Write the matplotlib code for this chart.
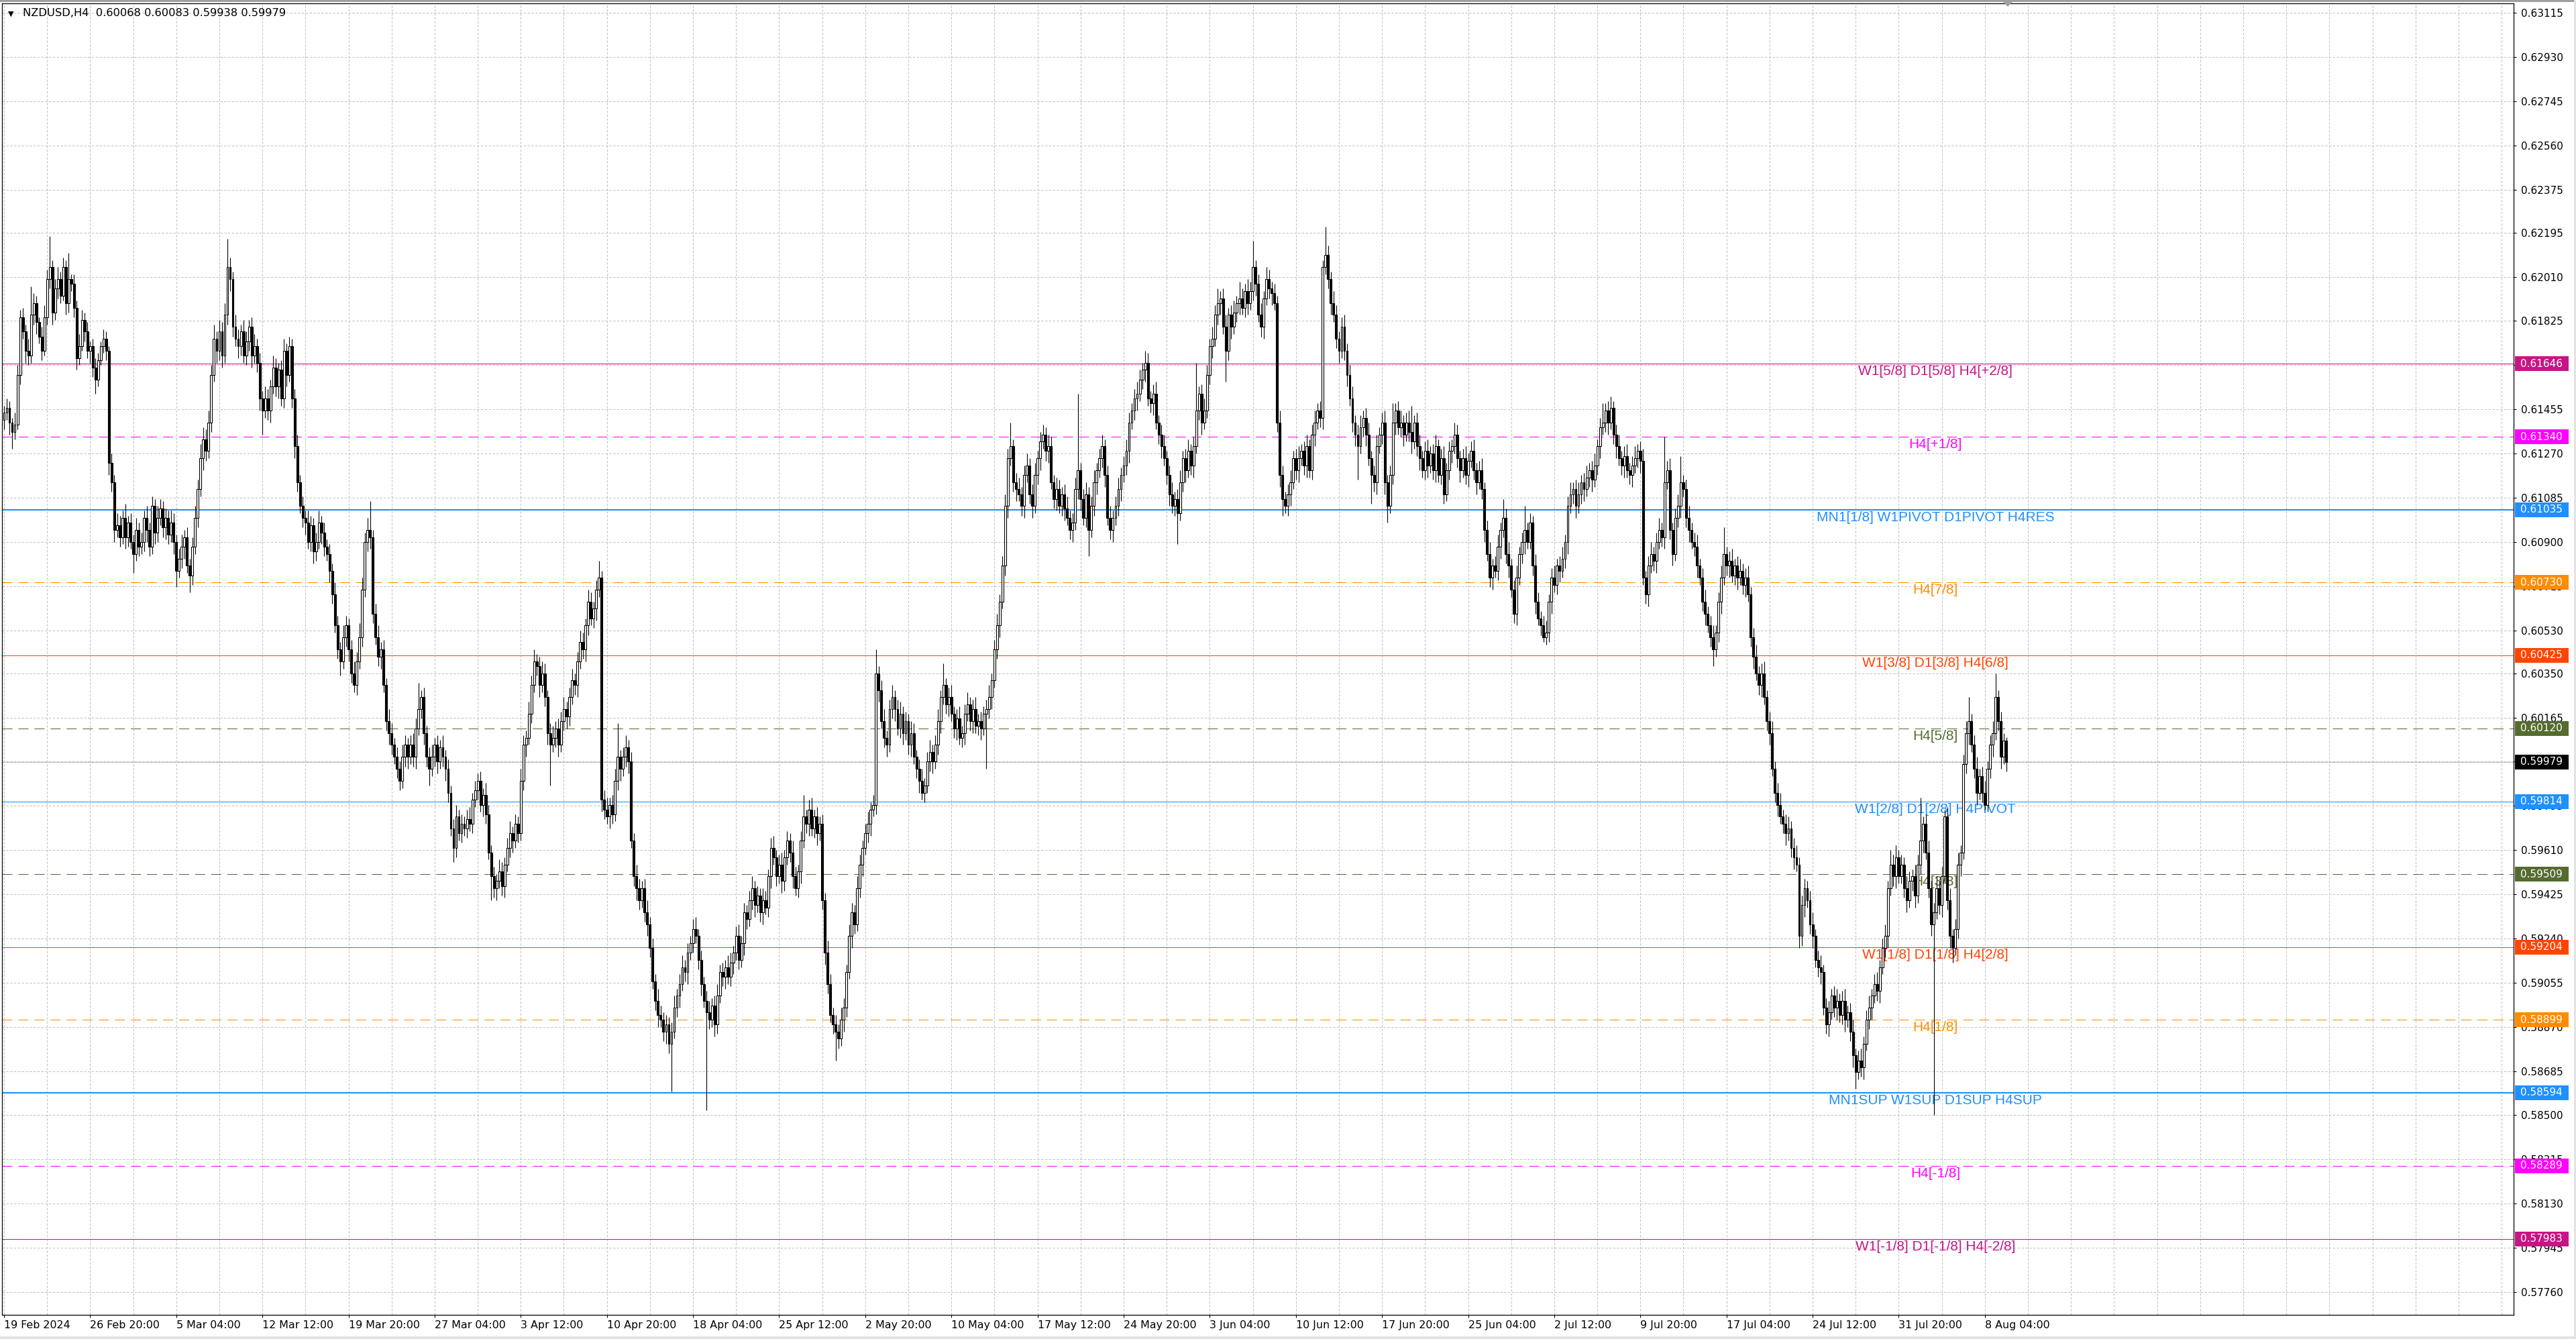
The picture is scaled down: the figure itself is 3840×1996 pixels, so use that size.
import matplotlib

matplotlib.use("Agg")
import matplotlib.pyplot as plt
import numpy as np
from matplotlib.patches import Rectangle, Polygon
from matplotlib.transforms import blended_transform_factory

# ---- data (prices in pips, 0.0001) -------------------------------------
title_text = "NZDUSD,H4  0.60068 0.60083 0.59938 0.59979"
first_open = 6141

close_feb = [
    6144, 6146, 6140, 6136, 6139, 6160, 6184, 6178, 6170, 6168,
    6185, 6190, 6182, 6176, 6170, 6184, 6200, 6205, 6186, 6196,
    6200, 6193, 6205, 6190, 6200, 6198, 6188, 6167, 6172, 6183,
    6178, 6170, 6172, 6163, 6158, 6166, 6172, 6175, 6170, 6123,
    6115, 6095, 6097, 6092, 6100, 6092, 6098, 6090, 6085, 6095,
    6088,
]
close_mar = [
    6090, 6100, 6095, 6088, 6105, 6094, 6100, 6104, 6096, 6100,
    6093, 6098, 6090, 6078, 6083, 6088, 6092, 6080, 6076, 6088,
    6100, 6112, 6125, 6133, 6128, 6140, 6160, 6175, 6170, 6178,
    6168, 6185, 6205, 6200, 6180, 6175, 6172, 6178, 6168, 6174,
    6180, 6168, 6172, 6165, 6150, 6145, 6150, 6145, 6155, 6163,
    6155, 6162, 6150, 6170, 6160, 6172, 6150, 6130, 6115, 6105,
    6100, 6098, 6090, 6097, 6086, 6090, 6098, 6094, 6088, 6085,
    6078, 6068, 6055, 6045, 6040, 6050, 6055, 6045, 6035, 6030,
    6040, 6050, 6070, 6090, 6095, 6092, 6060, 6050, 6042, 6045,
    6030, 6015, 6010, 6005, 6000, 5995, 5990, 6000, 6005, 6000,
    6005, 6000, 6012, 6020, 6025, 6010, 6000, 5995, 6000, 6005,
    5998, 6004, 6000, 5995, 5985, 5970, 5962, 5975, 5968, 5972,
    5970, 5974, 5972, 5982, 5986, 5990,
]
close_apr = [
    5980, 5984, 5976, 5960, 5950, 5945, 5948, 5952, 5946, 5955,
    5962, 5968, 5965, 5972, 5968, 5990, 6005, 6008, 6018, 6030,
    6040, 6038, 6030, 6035, 6025, 6010, 6005, 6008, 6012, 6005,
    6015, 6020, 6017, 6025, 6032, 6030, 6040, 6048, 6045, 6055,
    6065, 6058, 6062, 6070, 6075, 5982, 5978, 5975, 5980, 5976,
    5990, 6000, 5995, 6000, 6004, 5998, 5965, 5950, 5945, 5940,
    5945, 5935, 5930, 5920, 5906, 5898, 5892, 5890, 5885, 5888,
    5880, 5885, 5895, 5900, 5905, 5912, 5910, 5918, 5922, 5928,
    5925, 5915, 5905, 5898, 5893, 5890, 5896, 5888, 5900, 5910,
    5908, 5912, 5908, 5914, 5918, 5925, 5915, 5922, 5935, 5932,
    5940, 5945, 5938, 5942, 5935, 5940, 5937, 5950, 5962, 5958,
    5950, 5955, 5948, 5958, 5965, 5960, 5950, 5945, 5952, 5965,
    5975, 5972, 5978, 5970, 5975, 5968, 5972, 5940, 5918, 5905,
    5892, 5888,
]
close_may = [
    5885, 5882, 5890, 5895, 5910, 5925, 5935, 5930, 5945, 5955,
    5962, 5968, 5972, 5978, 5980, 6035, 6028, 6015, 6008, 6005,
    6020, 6025, 6020, 6012, 6018, 6010, 6015, 6005, 6010, 6000,
    5995, 5990, 5985, 5988, 5998, 6002, 5998, 6005, 6015, 6025,
    6030, 6022, 6025, 6018, 6012, 6016, 6008, 6010, 6018, 6022,
    6015, 6020, 6013, 6015, 6012, 6018, 6020, 6025, 6032, 6045,
    6055, 6065, 6080, 6105, 6125, 6130, 6115, 6112, 6110, 6105,
    6118, 6122, 6110, 6105, 6118, 6125, 6132, 6135, 6128, 6130,
    6115, 6108, 6112, 6105, 6110, 6104, 6100, 6095, 6098, 6112,
    6120, 6108, 6100, 6110, 6095, 6105, 6115, 6120, 6125, 6130,
    6118, 6100, 6095, 6100, 6105, 6112, 6118, 6122, 6128, 6140,
    6145, 6150, 6152, 6158, 6162, 6165, 6150, 6148, 6152, 6140,
    6135, 6130, 6125, 6118, 6110, 6105, 6108, 6102, 6115, 6125,
    6120, 6128, 6122, 6130, 6145, 6152, 6140, 6145,
]
close_jun = [
    6160, 6172, 6175, 6185, 6190, 6192, 6180, 6170, 6185, 6180,
    6186, 6190, 6192, 6188, 6195, 6190, 6195, 6205, 6198, 6185,
    6180, 6192, 6200, 6196, 6194, 6190, 6140, 6118, 6108, 6105,
    6110, 6115, 6125, 6120, 6125, 6128, 6122, 6130, 6120, 6135,
    6140, 6145, 6142, 6205, 6210, 6200, 6190, 6185, 6175, 6170,
    6180, 6170, 6160, 6150, 6140, 6135, 6130, 6138, 6142, 6135,
    6125, 6118, 6115, 6130, 6135, 6140, 6115, 6105, 6118, 6140,
    6145, 6138, 6140, 6135, 6140, 6136, 6132, 6140, 6130, 6125,
    6120, 6128, 6122, 6127, 6120, 6130, 6118, 6125, 6110, 6120,
    6128, 6130, 6135, 6125, 6120, 6125, 6118, 6124, 6128, 6120,
    6115, 6120, 6112, 6095, 6085, 6075, 6080, 6078, 6088, 6095,
    6100, 6085, 6080, 6070, 6060, 6075, 6085, 6090, 6095, 6090,
]
close_jul = [
    6098, 6080, 6065, 6058, 6055, 6050, 6052, 6065, 6075, 6072,
    6080, 6078, 6083, 6090, 6105, 6110, 6112, 6105, 6110, 6115,
    6112, 6117, 6120, 6116, 6122, 6130, 6138, 6140, 6145, 6140,
    6146, 6135, 6130, 6125, 6122, 6126, 6120, 6118, 6122, 6125,
    6128, 6124, 6075, 6068, 6080, 6085, 6082, 6090, 6095, 6092,
    6115, 6120, 6095, 6085, 6100, 6105, 6115, 6112, 6100, 6095,
    6090, 6088, 6080, 6075, 6065, 6060, 6055, 6050, 6045, 6052,
    6065, 6075, 6085, 6080, 6082, 6076, 6080, 6075, 6078, 6072,
    6075, 6068, 6050, 6042, 6035, 6030, 6035, 6025, 6015, 6010,
    5995, 5985, 5980, 5975, 5972, 5968, 5970, 5962, 5958, 5955,
    5925, 5938, 5945, 5940, 5930, 5925, 5915, 5912, 5910, 5895,
    5888, 5893, 5900, 5895, 5898, 5892, 5898, 5890, 5893, 5885,
    5875, 5868, 5873, 5870, 5880, 5890, 5895, 5900, 5905, 5902,
    5912, 5920, 5925, 5945, 5955, 5950, 5958, 5950,
]
close_aug = [
    5955, 5945, 5940, 5948, 5950, 5942, 5955, 5965, 5972, 5960,
    5945, 5930, 5935, 5945, 5938, 5950, 5975, 5940, 5925, 5920,
    5928, 5955, 5960, 5997, 6010, 6015, 6005, 5995, 5985, 5992,
    5985, 5980, 5995, 6005, 6010, 6025, 6015, 6000, 6006.8, 5997.9,
]

# upper / lower shadow length above / below the body, in pips
up_feb = [
    3, 4, 3, 2, 5, 4, 3, 4, 3, 5,
    12, 4, 3, 2, 4, 5, 4, 13, 3, 4,
    5, 3, 4, 3, 11, 2, 4, 3, 5, 4,
    3, 4, 2, 3, 4, 3, 2, 4, 3, 2,
    4, 3, 5, 4, 3, 6, 3, 4, 3, 5,
    3,
]
dn_feb = [
    4, 3, 5, 7, 3, 2, 4, 3, 5, 4,
    3, 4, 5, 3, 4, 2, 3, 4, 5, 3,
    4, 3, 2, 5, 4, 3, 4, 5, 3, 2,
    4, 3, 5, 4, 6, 3, 2, 3, 4, 5,
    4, 5, 3, 4, 3, 5, 4, 3, 8, 3,
    4,
]
up_mar = [
    4, 3, 5, 3, 4, 3, 5, 4, 3, 4,
    3, 5, 4, 3, 4, 5, 3, 4, 3, 4,
    5, 4, 6, 5, 4, 5, 4, 6, 3, 5,
    4, 5, 12, 4, 3, 5, 4, 3, 5, 4,
    3, 4, 5, 3, 4, 3, 5, 4, 3, 5,
    4, 3, 4, 5, 3, 4, 3, 4, 5, 3,
    4, 3, 5, 4, 3, 4, 5, 3, 4, 3,
    4, 3, 5, 4, 3, 5, 4, 3, 4, 5,
    4, 6, 5, 4, 5, 12, 3, 4, 5, 3,
    4, 3, 5, 4, 3, 4, 3, 5, 4, 3,
    4, 5, 4, 11, 3, 4, 3, 4, 5, 3,
    4, 3, 5, 3, 4, 3, 4, 5, 3, 4,
    3, 4, 5, 3, 4, 3,
]
dn_mar = [
    3, 4, 5, 4, 3, 5, 4, 3, 4, 5,
    4, 3, 5, 7, 3, 4, 5, 3, 7, 4,
    3, 4, 3, 5, 4, 3, 4, 3, 5, 4,
    5, 3, 4, 5, 4, 3, 5, 4, 3, 4,
    4, 5, 3, 4, 5, 10, 3, 4, 5, 3,
    4, 5, 3, 4, 5, 3, 4, 5, 4, 3,
    4, 5, 3, 4, 5, 4, 3, 5, 4, 3,
    5, 4, 3, 4, 6, 3, 4, 5, 4, 3,
    4, 3, 4, 3, 4, 5, 4, 3, 4, 5,
    3, 4, 5, 4, 3, 4, 4, 3, 4, 5,
    3, 4, 5, 3, 4, 5, 4, 7, 3, 4,
    5, 3, 4, 5, 4, 3, 6, 4, 3, 4,
    3, 4, 3, 4, 3, 4,
]
up_apr = [
    4, 3, 5, 4, 3, 4, 3, 5, 4, 3,
    4, 5, 3, 4, 3, 5, 4, 3, 5, 4,
    5, 3, 4, 5, 4, 3, 4, 5, 3, 4,
    4, 5, 3, 4, 5, 3, 4, 5, 4, 3,
    5, 4, 3, 4, 7, 3, 4, 5, 3, 4,
    5, 14, 3, 4, 5, 3, 4, 3, 5, 4,
    3, 4, 5, 3, 4, 3, 5, 4, 3, 4,
    3, 4, 5, 3, 4, 5, 3, 4, 3, 4,
    5, 3, 4, 3, 4, 5, 3, 4, 5, 3,
    4, 3, 5, 4, 3, 4, 5, 3, 4, 3,
    4, 5, 3, 4, 3, 5, 4, 3, 4, 5,
    3, 4, 5, 3, 4, 3, 5, 4, 3, 4,
    9, 3, 4, 5, 3, 4, 3, 4, 3, 5,
    4, 3,
]
dn_apr = [
    3, 5, 4, 3, 10, 4, 5, 3, 4, 5,
    3, 4, 5, 3, 4, 3, 4, 5, 3, 4,
    3, 4, 5, 3, 4, 5, 17, 3, 4, 5,
    3, 4, 5, 4, 3, 4, 5, 3, 4, 5,
    4, 3, 4, 5, 3, 5, 4, 3, 5, 4,
    3, 4, 5, 3, 4, 5, 3, 4, 5, 4,
    3, 4, 5, 4, 3, 4, 5, 3, 4, 5,
    4, 20, 3, 4, 5, 3, 4, 5, 3, 4,
    3, 4, 5, 3, 41, 4, 3, 5, 4, 3,
    4, 5, 3, 4, 5, 3, 4, 3, 5, 4,
    3, 4, 5, 3, 4, 5, 3, 4, 5, 3,
    4, 3, 5, 4, 3, 4, 5, 3, 4, 5,
    3, 4, 5, 3, 4, 5, 3, 4, 5, 4,
    3, 4,
]
up_may = [
    4, 3, 5, 4, 3, 5, 4, 3, 5, 4,
    3, 4, 5, 3, 4, 10, 3, 4, 5, 3,
    4, 5, 3, 4, 5, 3, 4, 3, 5, 4,
    3, 4, 5, 3, 4, 5, 3, 4, 5, 3,
    9, 3, 4, 5, 3, 4, 5, 3, 4, 5,
    3, 4, 5, 3, 4, 3, 4, 5, 3, 4,
    5, 3, 4, 5, 4, 10, 3, 4, 5, 3,
    4, 5, 3, 4, 5, 3, 4, 4, 3, 5,
    4, 3, 5, 4, 3, 4, 5, 3, 4, 5,
    32, 3, 4, 5, 3, 4, 5, 3, 4, 5,
    3, 4, 5, 3, 4, 5, 3, 4, 5, 4,
    3, 4, 5, 4, 3, 5, 4, 3, 4, 5,
    3, 4, 5, 3, 4, 5, 3, 4, 5, 3,
    4, 5, 3, 4, 20, 3, 4, 5,
]
dn_may = [
    12, 4, 3, 5, 4, 3, 5, 4, 3, 4,
    5, 3, 4, 5, 3, 4, 5, 3, 4, 5,
    3, 4, 5, 3, 4, 5, 3, 4, 5, 3,
    4, 5, 3, 4, 3, 4, 5, 3, 4, 5,
    3, 4, 5, 3, 4, 5, 3, 4, 5, 3,
    4, 5, 3, 4, 5, 3, 23, 4, 5, 3,
    4, 5, 3, 4, 5, 3, 4, 5, 3, 4,
    5, 3, 4, 5, 3, 4, 5, 3, 4, 5,
    3, 4, 5, 3, 4, 5, 3, 4, 5, 3,
    4, 5, 3, 4, 11, 3, 4, 5, 3, 4,
    5, 3, 4, 5, 3, 4, 5, 3, 4, 5,
    3, 4, 5, 3, 4, 5, 3, 4, 5, 3,
    4, 5, 3, 4, 5, 3, 4, 13, 3, 4,
    5, 3, 4, 5, 3, 4, 5, 3,
]
up_jun = [
    4, 3, 5, 4, 6, 3, 4, 5, 3, 4,
    5, 3, 7, 4, 3, 5, 4, 11, 3, 4,
    5, 3, 5, 4, 3, 4, 3, 5, 4, 3,
    4, 5, 3, 4, 5, 3, 4, 5, 3, 4,
    5, 3, 4, 3, 12, 4, 3, 5, 4, 3,
    4, 5, 3, 4, 5, 3, 4, 5, 3, 4,
    5, 3, 4, 5, 3, 4, 5, 3, 4, 8,
    3, 4, 5, 3, 4, 5, 11, 3, 4, 5,
    3, 4, 5, 3, 4, 5, 3, 4, 5, 3,
    4, 3, 5, 4, 3, 4, 5, 3, 4, 5,
    3, 4, 5, 3, 4, 5, 3, 4, 5, 3,
    8, 4, 5, 3, 4, 5, 3, 4, 10, 3,
]
dn_jun = [
    3, 4, 5, 3, 4, 5, 3, 13, 4, 5,
    3, 4, 5, 3, 4, 5, 3, 4, 5, 3,
    4, 5, 3, 4, 5, 3, 4, 5, 7, 3,
    4, 5, 3, 4, 5, 3, 4, 5, 3, 4,
    5, 3, 4, 5, 3, 4, 5, 3, 4, 5,
    3, 4, 5, 3, 4, 5, 14, 3, 4, 5,
    3, 12, 4, 5, 3, 4, 5, 7, 3, 4,
    5, 3, 4, 5, 3, 4, 5, 3, 4, 5,
    3, 4, 5, 3, 4, 5, 3, 4, 4, 3,
    4, 5, 3, 4, 5, 3, 4, 5, 3, 4,
    5, 3, 4, 5, 3, 4, 5, 3, 4, 5,
    3, 4, 5, 3, 4, 5, 3, 4, 5, 3,
]
up_jul = [
    4, 3, 5, 4, 3, 4, 5, 3, 4, 5,
    3, 4, 5, 3, 4, 5, 3, 4, 5, 3,
    4, 5, 3, 4, 5, 3, 4, 8, 3, 4,
    5, 3, 4, 5, 3, 4, 5, 3, 4, 5,
    3, 4, 5, 3, 4, 5, 3, 4, 5, 3,
    19, 4, 5, 3, 4, 5, 11, 3, 4, 5,
    3, 4, 5, 3, 4, 5, 3, 4, 5, 3,
    4, 5, 11, 3, 4, 5, 3, 4, 5, 3,
    4, 5, 3, 4, 5, 3, 4, 5, 3, 4,
    5, 3, 4, 5, 3, 4, 5, 3, 4, 5,
    3, 4, 4, 3, 4, 5, 3, 4, 5, 3,
    4, 5, 3, 4, 5, 3, 4, 5, 3, 4,
    5, 3, 4, 5, 3, 4, 5, 3, 4, 5,
    3, 4, 5, 3, 6, 4, 5, 3,
]
dn_jul = [
    3, 4, 5, 3, 4, 2, 3, 4, 5, 3,
    4, 5, 3, 4, 5, 3, 4, 5, 3, 4,
    5, 3, 4, 5, 3, 4, 5, 3, 4, 5,
    3, 4, 5, 3, 4, 5, 3, 4, 5, 3,
    4, 5, 3, 4, 5, 3, 4, 5, 3, 4,
    5, 3, 4, 5, 3, 4, 5, 3, 4, 5,
    3, 4, 5, 3, 4, 5, 3, 4, 7, 3,
    4, 5, 3, 4, 5, 3, 4, 5, 3, 4,
    5, 3, 4, 5, 3, 4, 5, 3, 4, 5,
    3, 4, 5, 3, 4, 5, 3, 4, 5, 3,
    5, 4, 5, 3, 4, 5, 3, 4, 5, 3,
    4, 5, 3, 4, 5, 3, 4, 5, 3, 4,
    5, 7, 3, 4, 5, 3, 4, 5, 3, 4,
    5, 3, 4, 5, 3, 4, 5, 3,
]
up_aug = [
    4, 3, 5, 4, 3, 5, 4, 18, 3, 4,
    5, 3, 4, 5, 3, 4, 3, 4, 5, 3,
    4, 5, 3, 4, 5, 10, 3, 4, 5, 3,
    4, 5, 3, 4, 5, 10, 3, 4, 3, 1.5,
]
dn_aug = [
    3, 4, 5, 3, 4, 5, 3, 4, 5, 3,
    4, 5, 80, 3, 4, 5, 3, 4, 5, 6,
    3, 4, 5, 3, 4, 5, 3, 4, 5, 3,
    4, 2, 3, 4, 5, 3, 4, 5, 3, 4.1,
]

time_labels = [
    "19 Feb 2024", "26 Feb 20:00", "5 Mar 04:00", "12 Mar 12:00",
    "19 Mar 20:00", "27 Mar 04:00", "3 Apr 12:00", "10 Apr 20:00",
    "18 Apr 04:00", "25 Apr 12:00", "2 May 20:00", "10 May 04:00",
    "17 May 12:00", "24 May 20:00", "3 Jun 04:00", "10 Jun 12:00",
    "17 Jun 20:00", "25 Jun 04:00", "2 Jul 12:00", "9 Jul 20:00",
    "17 Jul 04:00", "24 Jul 12:00", "31 Jul 20:00", "8 Aug 04:00",
]
price_ticks = [
    0.63115, 0.62930, 0.62745, 0.62560, 0.62375, 0.62195, 0.62010,
    0.61825, 0.61640, 0.61455, 0.61270, 0.61085, 0.60900, 0.60715,
    0.60530, 0.60350, 0.60165, 0.59980, 0.59795, 0.59610, 0.59425,
    0.59240, 0.59055, 0.58870, 0.58685, 0.58500, 0.58315, 0.58130,
    0.57945, 0.57760,
]

level_prices = [0.61646, 0.61340, 0.61035, 0.60730, 0.60425, 0.60120, 0.59814,
                0.59509, 0.59204, 0.58899, 0.58594, 0.58289, 0.57983]
level_names = [
    "W1[5/8] D1[5/8] H4[+2/8]", "H4[+1/8]", "MN1[1/8] W1PIVOT D1PIVOT H4RES",
    "H4[7/8]", "W1[3/8] D1[3/8] H4[6/8]", "H4[5/8]", "W1[2/8] D1[2/8] H4PIVOT",
    "H4[3/8]", "W1[1/8] D1[1/8] H4[2/8]", "H4[1/8]", "MN1SUP W1SUP D1SUP H4SUP",
    "H4[-1/8]", "W1[-1/8] D1[-1/8] H4[-2/8]",
]
last_price = 0.59979

# ---- styles ---------------------------------------------------------------
level_colors = ["#C71585", "#FF00FF", "#1E90FF", "#FF8C00", "#FF4500", "#556B2F",
                "#1E90FF", "#556B2F", "#FF4500", "#FF8C00", "#1E90FF", "#FF00FF",
                "#C71585"]
level_dashed = [False, True, False, True, False, True, False, True, False, True,
                False, True, False]
level_widths = [0.75, 0.75, 1.5, 0.75, 0.75, 0.75, 0.75, 0.75, 0.75, 0.75, 1.5,
                0.75, 0.75]

W, H = 3840, 1996
PX_PER_UNIT = 35611.0          # pixels per 1.0 of price
AX_L, AX_R, AX_T, AX_B = 3, 3747, 5, 1960
BAR_PX = 4.012
BAR0_X = 6
LABEL_BAR = 717.6
GRID = "#C0C0C0"

closes = np.concatenate([close_feb, close_mar, close_apr, close_may,
                         close_jun, close_jul, close_aug]).astype(float)
ups = np.concatenate([up_feb, up_mar, up_apr, up_may, up_jun, up_jul, up_aug]).astype(float)
dns = np.concatenate([dn_feb, dn_mar, dn_apr, dn_may, dn_jun, dn_jul, dn_aug]).astype(float)
n = min(len(closes), len(ups), len(dns))
closes, ups, dns = closes[:n], ups[:n], dns[:n]
opens = np.concatenate([[first_open], closes[:-1]])
highs = np.maximum(opens, closes) + ups
lows = np.minimum(opens, closes) - dns
o, c, hi, lo = opens / 1e4, closes / 1e4, highs / 1e4, lows / 1e4

y_top = 0.63115 + (19 - AX_T) / PX_PER_UNIT
y_bot = 0.63115 - (AX_B - 19) / PX_PER_UNIT
x_left = (AX_L - BAR0_X) / BAR_PX
x_right = (AX_R - BAR0_X) / BAR_PX

plt.rcParams["font.family"] = ["DejaVu Sans"]
fig = plt.figure(figsize=(W / 100, H / 100), dpi=100)
fig.patch.set_facecolor("white")
ax = fig.add_axes([AX_L / W, (H - AX_B) / H, (AX_R - AX_L) / W, (AX_B - AX_T) / H])
ax.set_xlim(x_left, x_right)
ax.set_ylim(y_bot, y_top)
ax.set_facecolor("white")

# grid
for p in price_ticks:
    ax.axhline(p, color=GRID, lw=0.72, ls=(0, (3.5, 2.3)), zorder=1)
for gx in np.arange(0, x_right, 16):
    ax.axvline(gx, color=GRID, lw=0.72, ls=(0, (3.5, 2.3)), zorder=1)

# level lines + labels
for p, name, col, dashed, lw in zip(level_prices, level_names, level_colors,
                                    level_dashed, level_widths):
    ls = (0, (14.4, 8.6)) if dashed else "-"
    ax.axhline(p, color=col, lw=lw, ls=ls, zorder=2)
    ax.annotate(name, xy=(LABEL_BAR, p), xytext=(0, -8.3), textcoords="offset points",
                ha="center", va="center", color=col, fontsize=15,
                family=["Liberation Sans", "DejaVu Sans"], zorder=3)
ax.axhline(last_price, color="#C0C0C0", lw=0.9, zorder=2)

# candles
x = np.arange(n)
bull = c >= o
ax.vlines(x, lo, hi, color="black", lw=0.8, zorder=4)
ax.bar(x[bull], (c - o)[bull], bottom=o[bull], width=0.72, color="white",
       edgecolor="black", linewidth=0.8, zorder=5)
ax.bar(x[~bull], (o - c)[~bull], bottom=c[~bull], width=0.72, color="black",
       edgecolor="black", linewidth=0.8, zorder=5)

# axes / ticks
for s in ax.spines.values():
    s.set_color("black")
    s.set_linewidth(0.9)
ax.yaxis.tick_right()
ax.set_yticks(price_ticks, labels=[f"{v:.5f}" for v in price_ticks])
ax.tick_params(axis="y", length=3, width=0.8, pad=5, labelsize=11, colors="black")
ax.set_xticks(np.arange(len(time_labels)) * 32, labels=time_labels)
ax.tick_params(axis="x", length=3, width=0.8, pad=2.8, labelsize=11.4, colors="black")
for lbl in ax.get_xticklabels():
    lbl.set_ha("left")

# price boxes on the right scale
box_tr = blended_transform_factory(fig.transFigure, ax.transData)
box_h = 22 / PX_PER_UNIT
for p, col in list(zip(level_prices, level_colors)) + [(last_price, "black")]:
    ax.add_patch(Rectangle((3749 / W, p - box_h / 2), 80 / W, box_h, transform=box_tr,
                           facecolor=col, edgecolor="none", clip_on=False, zorder=6))
    ax.text(3757 / W, p, f"{p:.5f}", transform=box_tr, color="white", fontsize=11,
            ha="left", va="center", clip_on=False, zorder=7)

# header text
fig.text(12 / W, 1 - 21 / H, "\u25bc", fontsize=8, va="center", ha="left")
fig.text(34 / W, 1 - 20 / H, title_text, fontsize=11.7, va="center", ha="left")

# window frame bits
fig.patches.append(Rectangle((0, 1 - 3 / H), 1, 3 / H, transform=fig.transFigure,
                             facecolor="#A0A0A0", edgecolor="none"))
fig.patches.append(Rectangle((0, 0), 1, 4 / H, transform=fig.transFigure,
                             facecolor="#E3E3E3", edgecolor="none"))
fig.patches.append(Rectangle((1 - 3 / W, 0), 3 / W, 1, transform=fig.transFigure,
                             facecolor="#E3E3E3", edgecolor="none"))
fig.patches.append(Polygon([(2983 / W, 1), (3003 / W, 1), (2993 / W, 1 - 10 / H)],
                           closed=True, transform=fig.transFigure,
                           facecolor="#A0A0A0", edgecolor="none"))

fig.savefig("out.png", dpi=100, facecolor="white")
